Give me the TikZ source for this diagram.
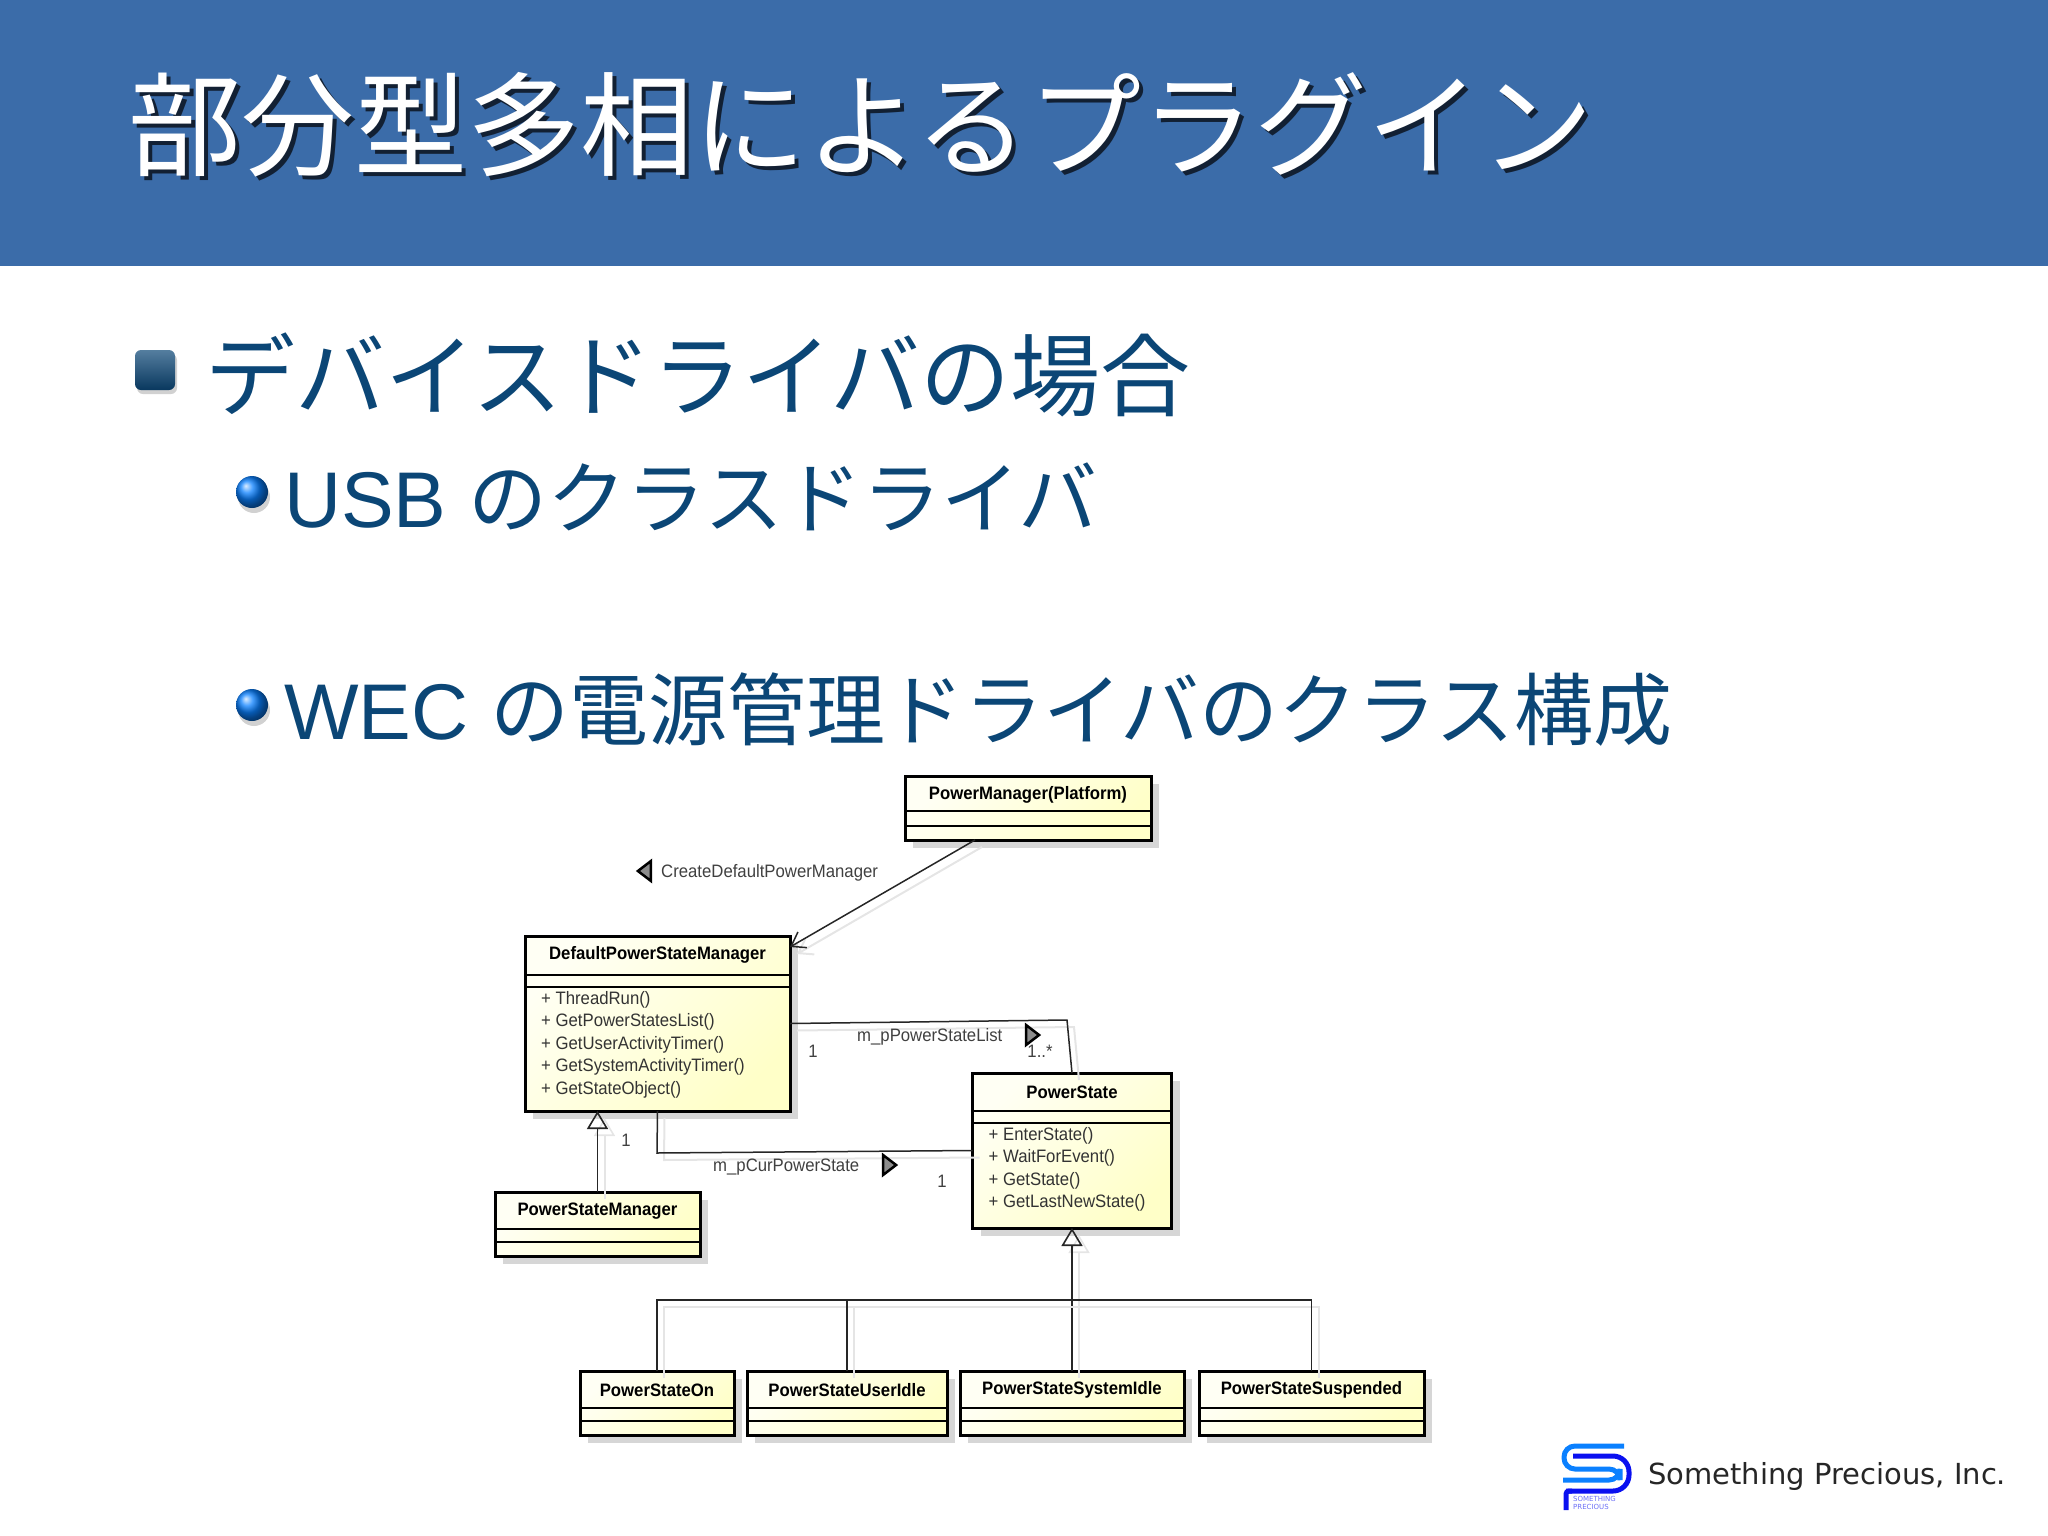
\documentclass[tikz,border=0pt]{standalone}
\usepackage{fontspec}
\setmainfont{Liberation Sans}
\newfontfamily\jpfont{Noto Sans CJK JP}
\newfontfamily\umlfont[FakeStretch=0.93]{Liberation Sans}
\newfontfamily\logofont{DejaVu Sans}
\usetikzlibrary{arrows.meta,shadows,shapes.geometric}
\definecolor{headblue}{HTML}{3B6CA9}
\definecolor{textblue}{HTML}{0B4676}
\definecolor{umlpale}{HTML}{FFFFF4}
\definecolor{umlyellow}{HTML}{FFFFC8}
\definecolor{logolight}{HTML}{0A80FF}
\definecolor{logodark}{HTML}{0A10F0}
\tikzset{
	headline/.style={anchor=west,inner sep=0,text=white,font=\jpfont\fontsize{113}{120}\selectfont},
	topic/.style={anchor=west,inner sep=0,text=textblue,font=\jpfont\fontsize{90}{100}\selectfont},
	subtopic/.style={anchor=west,inner sep=0,text=textblue,font=\fontsize{79}{90}\selectfont},
	umlbox/.style={rectangle,draw=black,line width=3pt,outer sep=0,top color=umlpale,bottom color=umlyellow,shading angle=45,
		drop shadow={shadow xshift=8pt,shadow yshift=-8pt,fill=black!16,opacity=1}},
	umltitle/.style={inner sep=0,text=black,font=\umlfont\bfseries\fontsize{18}{20}\selectfont},
	umlmember/.style={anchor=north west,inner sep=0,align=left,text=black!80,font=\umlfont\fontsize{18}{22.5}\selectfont},
	umllabel/.style={inner sep=0,text=black!75,font=\umlfont\fontsize{18}{20}\selectfont},
	navmark/.style={isosceles triangle,isosceles triangle apex angle=75,inner sep=0,minimum size=13pt,draw=black,line width=2.5pt,fill=black!45},
	link/.style={draw=black!85,line width=1.5pt,preaction={draw=black!10,line width=2pt,transform canvas={shift={(7pt,-7pt)}}}},
	owns/.style={link,-{Straight Barb[length=13pt,width=18pt]}},
	isa/.style={link,-{Triangle[open,length=18pt,width=21pt,line width=1.6pt]}},
}
\begin{document}
\begin{tikzpicture}[x=1pt,y=-1pt]
	\useasboundingbox (0,0) rectangle (2048,1536);
	% slide
	\fill[headblue] (0,0) rectangle (2048,266);
	\node[headline,text=black!70!headblue] at (132,129) {部分型多相によるプラグイン};
	\node[headline](slidetitle) at (128,125) {部分型多相によるプラグイン};
	\fill[black!18,rounded corners=6pt] (137,354) rectangle (177,394);
	\shade[rounded corners=6pt,top color=textblue!70!white,bottom color=textblue!80!black] (135,350) rectangle (175,390);
	\node[topic](devcase) at (205,375) {デバイスドライバの場合};
	\fill[black!18] (254,497) circle (16);
	\shade[ball color=logolight] (252,492) circle (16);
	\node[subtopic](usbline) at (284,497) {USB {\jpfont のクラスドライバ}};
	\fill[black!18] (254,710) circle (16);
	\shade[ball color=logolight] (252,705) circle (16);
	\node[subtopic](wecline) at (284,710) {WEC {\jpfont の電源管理ドライバのクラス構成}};
	% class diagram
	\node[umlbox,minimum width=246,minimum height=64](pm) at (1028,808) {};
	\node[umlbox,minimum width=265,minimum height=175](dpsm) at (657.5,1023.5) {};
	\node[umlbox,minimum width=205,minimum height=64](psm) at (597.5,1224) {};
	\node[umlbox,minimum width=199,minimum height=155](ps) at (1072,1150.5) {};
	\node[umlbox,minimum width=154,minimum height=64](on) at (657,1403) {};
	\node[umlbox,minimum width=200,minimum height=64](userIdle) at (847,1403) {};
	\node[umlbox,minimum width=224,minimum height=64](systemIdle) at (1072,1403) {};
	\node[umlbox,minimum width=225,minimum height=64](suspended) at (1311.5,1403) {};
	\foreach \b/\one/\two/\name in {pm/35/50/PowerManager(Platform),dpsm/39/51/DefaultPowerStateManager,
		psm/37/50/PowerStateManager,ps/38/50/PowerState,on/37/50/PowerStateOn,userIdle/37/50/PowerStateUserIdle,
		systemIdle/37/50/PowerStateSystemIdle,suspended/37/50/PowerStateSuspended}{
		\draw[line width=1.5pt] ([yshift=-\one pt]\b.north west) -- ([yshift=-\one pt]\b.north east);
		\draw[line width=1.5pt] ([yshift=-\two pt]\b.north west) -- ([yshift=-\two pt]\b.north east);
		\node[umltitle](\b title) at ([yshift=-19pt]\b.north) {\name};
	}
	\node[umlmember](dpsmmembers) at ([xshift=16pt,yshift=-55pt]dpsm.north west) {+ ThreadRun()\\+ GetPowerStatesList()\\+ GetUserActivityTimer()\\+ GetSystemActivityTimer()\\+ GetStateObject()};
	\node[umlmember](psmembers) at ([xshift=16pt,yshift=-54pt]ps.north west) {+ EnterState()\\+ WaitForEvent()\\+ GetState()\\+ GetLastNewState()};
	\coordinate (listbend) at (1067,1020);
	\coordinate (curbend) at (657,1153);
	\coordinate (bus) at (1072,1300);
	\draw[owns] ([xshift=-53pt]pm.south) -- ([yshift=-11pt]dpsm.north east);
	\draw[link] (dpsm.east) -- (listbend) -- (ps.north);
	\draw[link] (dpsm.south) -- (curbend) -- (ps.west);
	\draw[isa] (psm.north) -- (psm.north |- dpsm.south);
	\draw[isa] (systemIdle.north) -- (ps.south);
	\draw[link] (on.north) |- (bus);
	\draw[link] (userIdle.north) |- (bus);
	\draw[link] (suspended.north) |- (bus);
	\node[umllabel,anchor=west](createlabel) at (661,873) {CreateDefaultPowerManager};
	\node[navmark,shape border rotate=180](createmark) at (646,871) {};
	\node[umllabel,anchor=west](listlabel) at (857,1037) {m\_pPowerStateList};
	\node[navmark](listmark) at (1031,1035) {};
	\node[umllabel,anchor=west](curlabel) at (713,1167) {m\_pCurPowerState};
	\node[navmark](curmark) at (888,1165) {};
	\node[umllabel](listone) at (813,1051) {1};
	\node[umllabel](listmany) at (1040,1051) {1..*};
	\node[umllabel](curone) at (942,1181) {1};
	\node[umllabel](psmone) at (626,1140) {1};
	% logo
	\draw[logolight,line width=5pt,rounded corners=11pt] (1624,1446) -- (1564,1446) -- (1564,1469) -- (1620,1469) -- (1620,1480) -- (1563,1480);
	\draw[logodark,line width=5pt,rounded corners=16pt] (1573,1456) -- (1629,1456) -- (1629,1491) -- (1566,1491);
	\draw[logodark,line width=5pt,rounded corners=3pt] (1572,1491) -- (1566,1491) -- (1566,1510);
	\node[inner sep=0,anchor=west,text=logodark!60!white,font=\logofont\fontsize{7}{7}\selectfont](logotop) at (1573,1499) {SOMETHING};
	\node[inner sep=0,anchor=west,text=logodark!60!white,font=\logofont\fontsize{7}{7}\selectfont](logobottom) at (1573,1507) {PRECIOUS};
	\node[inner sep=0,anchor=west,text=black!85,font=\logofont\fontsize{29}{32}\selectfont](company) at (1648,1476) {Something Precious, Inc.};
\end{tikzpicture}
\end{document}
